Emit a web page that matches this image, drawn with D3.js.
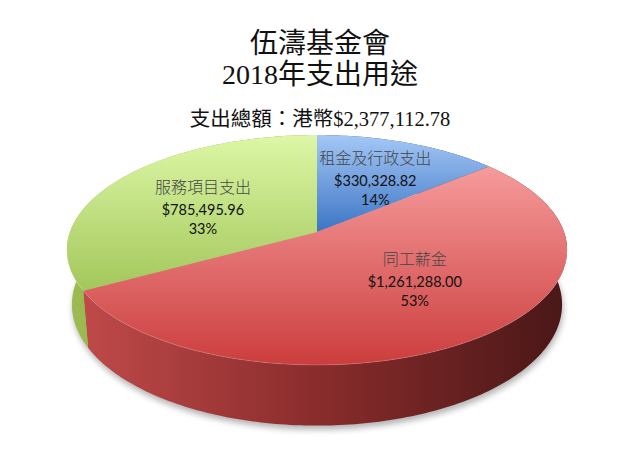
<!DOCTYPE html>
<html>
<head>
<meta charset="utf-8">
<script src="https://cdn.jsdelivr.net/npm/d3@7"></script>
<style>
  body { margin: 0; background: #fff; }
</style>
</head>
<body>
<svg id="chart" width="640" height="471"></svg>
<script>
// DATA
const categories = ['租金及行政支出', '同工薪金', '服務項目支出'];
const amounts = [330328.82, 1261288.00, 785495.96];
const amountLabels = ['$330,328.82', '$1,261,288.00', '$785,495.96'];
const titleLines = ['伍濤基金會', '2018年支出用途'];
const subtitle = '支出總額：港幣$2,377,112.78';

// SET VARIABLES
const _width = 640, _height = 471;
const _center = {x: 317, y: 232};
const _pieR = 247;                  // screen radius at the centre depth
const _tilt = 27 * Math.PI / 180;   // camera elevation
const _camDist = 5.69;              // camera distance, in radius units
const _thick = 0.25;                // height of the pie, in radius units
const _labelR = 0.55;
const _labelNudge = [[5, 1], [15, -5], [-2, 8]];
const _color = {
  top:  [['#a4c7f6', '#3c75c4'], ['#f69b9b', '#cc3d3d'], ['#ddf7a6', '#a3c75b']],
  side: [['#5c86c8', '#2f5596', '#1c3566'], ['#c24b4b', '#8a2c2c', '#4a1717'], ['#9cbb50', '#7c9a36', '#58701f']]
};
const _serif = '"Liberation Serif", "Noto Sans CJK TC", serif';
const _cjk = '"Noto Sans CJK TC", "Liberation Serif", serif';
const _sans = 'Lato, "Open Sans", sans-serif';

// PROJECT A POINT OF THE DISK (angle clockwise from the far side, height in radius units)
function onProject(theta, height, r = 1) {
  const x = r * Math.sin(theta), z = r * Math.cos(theta);
  const yp = height * Math.cos(_tilt) + z * Math.sin(_tilt);
  const d = z * Math.cos(_tilt) - height * Math.sin(_tilt);
  const s = _pieR * _camDist / (_camDist + d);
  return [_center.x + x * s, _center.y - yp * s];
}

function onArcPoints(a0, a1, height) {
  const n = Math.max(2, Math.ceil((a1 - a0) / (Math.PI / 180)));
  return d3.range(n + 1).map(i => onProject(a0 + (a1 - a0) * i / n, height));
}

const pie = d3.pie().sort(null).value(d => d);
const arcs = pie(amounts);
const total = d3.sum(amounts);
const line = d3.line();

const svg = d3.select('#chart');
const defs = svg.append('defs');

// gradients
arcs.forEach((a, i) => {
  const gt = defs.append('linearGradient').attr('id', `top${i}`)
                 .attr('x1', 0).attr('y1', 0).attr('x2', 0).attr('y2', 1);
  gt.append('stop').attr('offset', '0%').attr('stop-color', _color.top[i][0]);
  gt.append('stop').attr('offset', '100%').attr('stop-color', _color.top[i][1]);
  const gs = defs.append('linearGradient').attr('id', `side${i}`)
                 .attr('gradientUnits', 'userSpaceOnUse')
                 .attr('x1', _center.x - _pieR).attr('y1', 0)
                 .attr('x2', _center.x + _pieR).attr('y2', 0);
  _color.side[i].forEach((c, j) => gs.append('stop').attr('offset', `${j * 50}%`).attr('stop-color', c));
});
const blur = defs.append('filter').attr('id', 'shadow')
                 .attr('x', '-10%').attr('y', '-10%').attr('width', '120%').attr('height', '130%');
blur.append('feGaussianBlur').attr('stdDeviation', 3);

// shadow under the pie
svg.append('path')
   .attr('d', line(onArcPoints(0, 2 * Math.PI, -_thick)) + 'Z')
   .attr('transform', 'translate(1, 4)')
   .attr('fill', '#000')
   .attr('opacity', 0.3)
   .attr('filter', 'url(#shadow)');

// side walls
svg.append('g').attr('id', 'walls')
   .selectAll('path')
   .data(arcs)
   .enter()
   .append('path')
     .attr('d', a => line(onArcPoints(a.startAngle, a.endAngle, 0)
                     .concat(onArcPoints(a.startAngle, a.endAngle, -_thick).reverse())) + 'Z')
     .attr('fill', (a, i) => `url(#side${i})`);

// top faces
svg.append('g').attr('id', 'tops')
   .selectAll('path')
   .data(arcs)
   .enter()
   .append('path')
     .attr('d', a => line([onProject(0, 0, 0)].concat(onArcPoints(a.startAngle, a.endAngle, 0))) + 'Z')
     .attr('fill', (a, i) => `url(#top${i})`);

// thin highlight on the front rim
svg.append('path')
   .attr('d', line(onArcPoints(Math.PI * 0.55, Math.PI * 1.45, 0)))
   .attr('fill', 'none')
   .attr('stroke', '#fff')
   .attr('stroke-opacity', 0.18)
   .attr('stroke-width', 1);

// labels
const labels = svg.append('g').attr('id', 'labels')
                  .selectAll('g')
                  .data(arcs)
                  .enter()
                  .append('g')
                    .attr('transform', (a, i) => {
                      const p = onProject((a.startAngle + a.endAngle) / 2, 0, _labelR);
                      return `translate(${p[0] + _labelNudge[i][0]}, ${p[1] + _labelNudge[i][1]})`;
                    })
                    .attr('text-anchor', 'middle');
labels.append('text')
        .attr('y', -17)
        .attr('font-family', _cjk)
        .attr('font-weight', 300)
        .attr('font-size', 16)
        .attr('fill', '#454545')
        .text((a, i) => categories[i]);
labels.append('text')
        .attr('y', 5)
        .attr('font-family', _sans)
        .attr('font-size', 14.5)
        .attr('fill', '#111')
        .text((a, i) => amountLabels[i]);
labels.append('text')
        .attr('y', 24)
        .attr('font-family', _sans)
        .attr('font-size', 14.5)
        .attr('fill', '#111')
        .text(a => `${Math.round(a.value / total * 100)}%`);

// titles
svg.append('g').attr('id', 'title')
   .selectAll('text')
   .data(titleLines)
   .enter()
   .append('text')
     .attr('x', 320)
     .attr('y', (d, i) => 53 + i * 31)
     .attr('text-anchor', 'middle')
     .attr('font-family', _serif)
     .attr('font-size', 28)
     .attr('fill', '#111')
     .text(d => d);
svg.append('text')
   .attr('x', 320)
   .attr('y', 126)
   .attr('text-anchor', 'middle')
   .attr('font-family', _serif)
   .attr('font-size', 20.5)
   .attr('fill', '#111')
   .text(subtitle);
</script>
</body>
</html>
